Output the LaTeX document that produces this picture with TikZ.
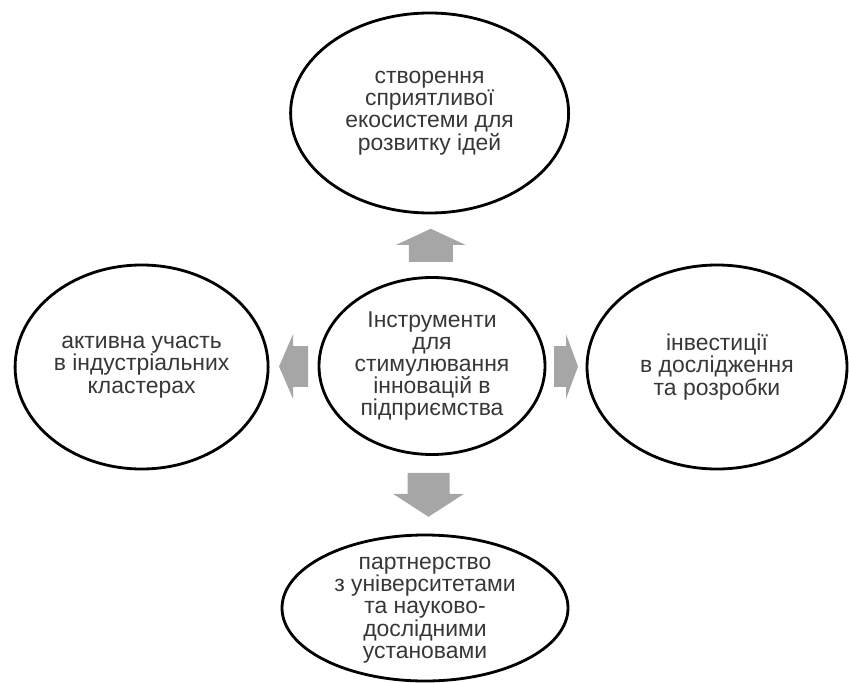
\documentclass[tikz,border=0pt]{standalone}
\usepackage{fontspec}
\setmainfont{Liberation Sans}
\usetikzlibrary{shapes.geometric,calc}
\definecolor{arrowgray}{RGB}{166,166,166}
\definecolor{txtgray}{RGB}{55,55,55}
\newcommand{\fatarrow}[6]{\fill [arrowgray,shift={(#1)},rotate=#2] (-#3/2,-#6) -- (#3/2-#4,-#6) -- (#3/2-#4,-#5) -- (#3/2,0) -- (#3/2-#4,#5) -- (#3/2-#4,#6) -- (-#3/2,#6) -- cycle;}
\begin{document}
\begin{tikzpicture}[oval/.style={ellipse,draw,line width=2pt,inner sep=0pt},
  txt/.style={text=txtgray,align=center,font=\fontsize{16.3}{15.8}\selectfont}]
\useasboundingbox (0,0) rectangle (21.225,17.05);

\node [oval,minimum width=6.95cm,minimum height=5cm] (top) at (10.74,14.225) {};
\node [oval,minimum width=5.65cm,minimum height=4.425cm] (ctr) at (10.8,7.9) {};
\node [oval,minimum width=6.325cm,minimum height=5.1cm] (lft) at (3.54,7.875) {};
\node [oval,minimum width=6.5cm,minimum height=5.1cm] (rgt) at (17.925,7.875) {};
\node [oval,minimum width=7.15cm,minimum height=3.65cm] (bot) at (10.625,1.85) {};

\node [txt] (toptext) at (top) {створення\\сприятливої\\екосистеми для\\розвитку ідей};
\node [txt] (ctrtext) at (ctr) {Інструменти\\для\\стимулювання\\інновацій в\\підприємства};
\node [txt] (lfttext) at (lft) {активна участь\\в індустріальних\\кластерах};
\node [txt] (rgttext) at (rgt) {інвестиції\\в дослідження\\та розробки};
\node [txt] (bottext) at ($(bot)+(0,-0.05)$) {партнерство\\з університетами\\та науково-\\дослідними\\установами};

\coordinate (au) at ($(ctr.north)!0.5!(top.south)$);
\coordinate (ad) at ($(ctr.south)!0.5!(bot.north)$);
\coordinate (al) at ($(ctr.west)!0.5!(lft.east)$);
\coordinate (ar) at ($(ctr.east)!0.5!(rgt.west)$);

\fatarrow{au}{90}{0.825}{0.4}{0.86}{0.55}
\fatarrow{ad}{-90}{1.1}{0.575}{0.89}{0.525}
\fatarrow{al}{180}{0.725}{0.35}{0.81}{0.51}
\fatarrow{ar}{0}{0.6}{0.3}{0.81}{0.51}

\end{tikzpicture}
\end{document}
